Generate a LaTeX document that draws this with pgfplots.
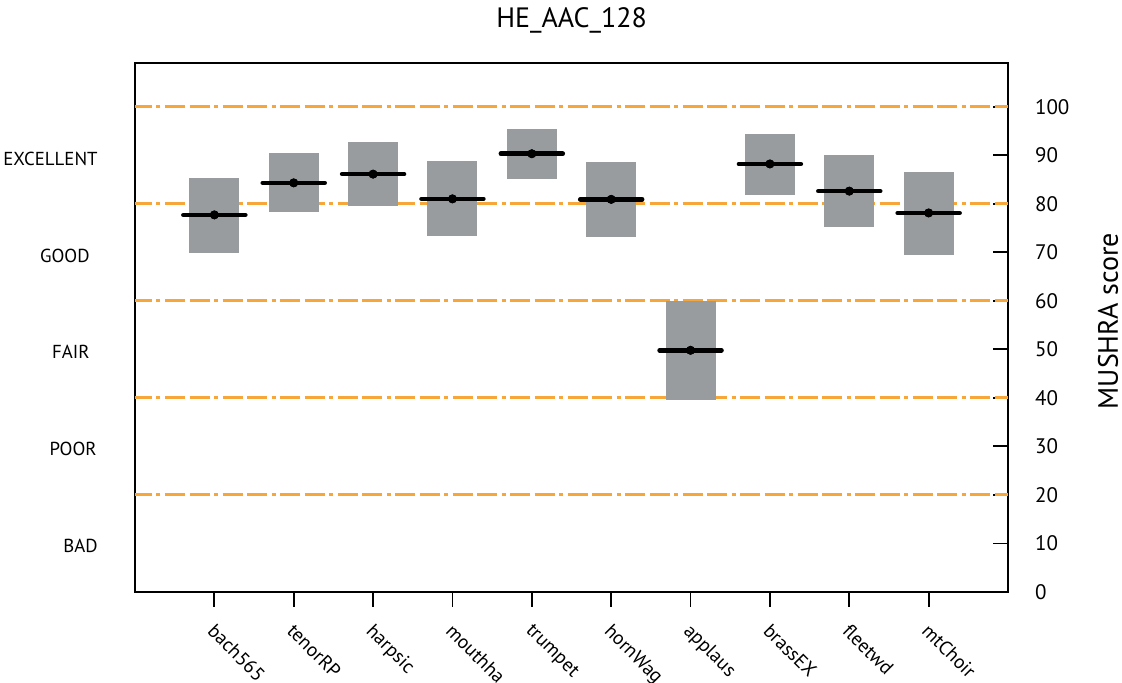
\documentclass[border=0pt]{standalone}
\usepackage{pgfplots}
\pgfplotsset{compat=1.18}
\usepackage{pgfplotstable}
\usepackage{fontspec}
\setmainfont{PT Sans}
\definecolor{boxgray}{RGB}{152,156,159}
\definecolor{mushorange}{RGB}{247,166,58}

\pgfplotstableread{
x lo hi mean
1 69.9 85.4 77.7
2 78.2 90.4 84.3
3 79.5 92.7 86.1
4 73.3 88.9 81.0
5 85.1 95.5 90.3
6 73.1 88.7 80.9
7 39.5 60.0 49.8
8 81.9 94.4 88.2
9 75.2 90.0 82.6
10 69.5 86.6 78.1
}\data

\begin{document}
\begin{tikzpicture}
\path[use as bounding box] (-67.5pt,-45.5pt) rectangle (493.5pt,296pt);
\begin{axis}[
  at={(0,0)}, anchor=south west,
  scale only axis, width=436.5pt, height=264.5pt,
  xmin=0, xmax=11, ymin=0, ymax=109,
  xtick={1,...,10},
  xticklabels={bach565,tenorRP,harpsic,mouthha,trumpet,hornWag,applaus,brassEX,fleetwd,mtChoir},
  ytick={0,10,...,100},
  xtick pos=left, ytick pos=right, yticklabel pos=right,
  tick align=inside,
  major tick length=7.5pt,
  xtick style={yshift=-7.5pt},
  every tick/.append style={line width=0.9pt, black},
  axis line style={line width=1pt, black},
  clip=false,
  /pgf/number format/assume math mode=true,
  tick label style={font=\fontsize{10.5}{12}\selectfont},
  yticklabel style={xshift=10pt},
  xticklabel style={xshift=1pt, yshift=-15pt, rotate=-45, anchor=north west, inner sep=0pt, font=\fontsize{9.7}{11}\selectfont},
  title={HE\_AAC\_128},
  title style={at={(0.5,1)}, anchor=base, yshift=11.5pt, font=\fontsize{14}{16}\selectfont},
  ylabel={MUSHRA score},
  ylabel style={at={(axis description cs:1,0.512)}, anchor=center, yshift=-50pt, font=\fontsize{14}{16}\selectfont},
]
\foreach \v in {20,40,60,80,100}{
  \edef\tmp{\noexpand\addplot[mushorange, line width=1.5pt, dash pattern=on 10pt off 2.25pt on 10pt off 2.25pt on 2pt off 2.25pt, dash phase=13.75pt] coordinates {(0,\v) (11,\v)};}
  \tmp
}
\addplot[only marks, mark=none, error bars/.cd, y dir=both, y explicit, error mark=none,
  error bar style={line width=25pt, draw=boxgray, solid}]
  table[x=x, y=mean, y error plus expr=\thisrow{hi}-\thisrow{mean}, y error minus expr=\thisrow{mean}-\thisrow{lo}] {\data};
\addplot[only marks, mark=none, error bars/.cd, x dir=both, x fixed=0.39, error mark=none,
  error bar style={line width=2.3pt, line cap=round, draw=black, solid}]
  table[x=x, y=mean] {\data};
\addplot[only marks, mark=*, mark size=1.3pt, black] table[x=x, y=mean] {\data};
\begin{scope}[every node/.style={anchor=east, inner sep=0pt, font=\fontsize{9.4}{11}\selectfont}]
\node[xshift=-18.5pt] at (axis cs:0,89.3) {EXCELLENT};
\node[xshift=-22.5pt] at (axis cs:0,69.3) {GOOD};
\node[xshift=-22.5pt] at (axis cs:0,49.4) {FAIR};
\node[xshift=-19pt] at (axis cs:0,29.4) {POOR};
\node[xshift=-18.5pt] at (axis cs:0,9.4) {BAD};
\end{scope}
\end{axis}
\end{tikzpicture}
\end{document}
